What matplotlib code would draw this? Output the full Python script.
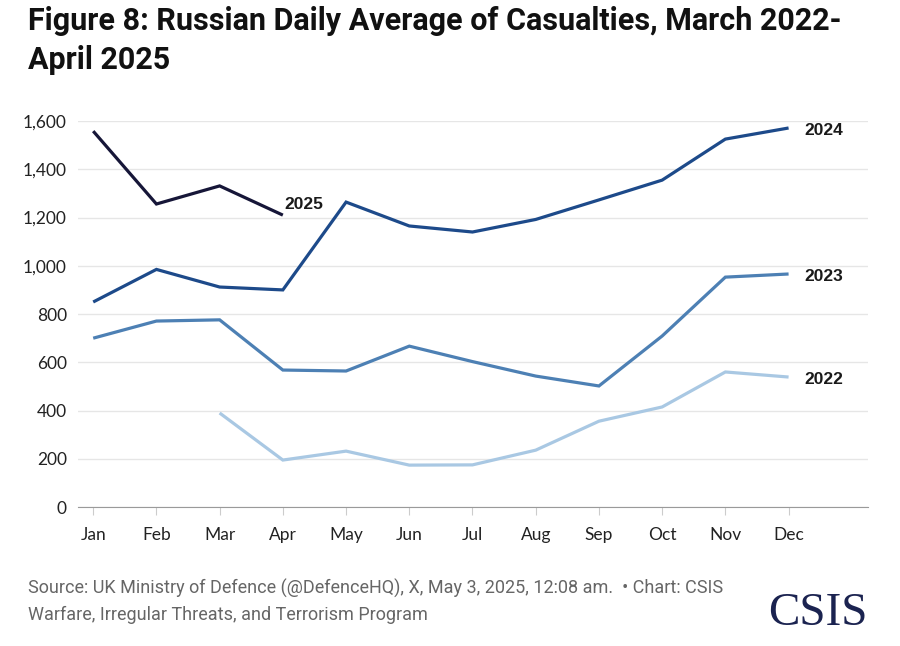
import matplotlib
matplotlib.use("Agg")
import matplotlib.pyplot as plt

# month labels and yearly daily-average casualties
months = ["Jan", "Feb", "Mar", "Apr", "May", "Jun", "Jul", "Aug", "Sep", "Oct", "Nov", "Dec"]
y2022 = [None, None, 390, 195, 232, 174, 175, 236, 356, 415, 560, 539]
y2023 = [700, 771, 776, 568, 564, 667, 603, 543, 502, 709, 953, 966]
y2024 = [850, 985, 912, 900, 1264, 1165, 1140, 1192, 1273, 1355, 1525, 1571]
y2025 = [1558, 1256, 1331, 1210]

series = [
    ("2022", y2022, "#a9c8e3"),
    ("2023", y2023, "#4d80b4"),
    ("2024", y2024, "#1d4a8a"),
    ("2025", y2025, "#161638"),
]

fig = plt.figure(figsize=(9, 6.46), dpi=100)
ax = fig.add_axes([0.0867, 0.215, 0.8773, 0.5977])

for name, vals, col in series:
    xs = [i for i, v in enumerate(vals) if v is not None]
    ys = [v for v in vals if v is not None]
    ax.plot(xs, ys, color=col, lw=2.3, solid_capstyle="butt", solid_joinstyle="miter", clip_on=False)
    if name == "2025":
        # this label sits just right of and above the last point
        ax.text(xs[-1] + 0.03, ys[-1] + 45, name, fontsize=12.5, fontweight="bold",
                family="Liberation Sans", color="#1a1a1a", va="center", ha="left")
    else:
        ax.text(xs[-1] + 0.25, ys[-1] - 12, name, fontsize=12.5, fontweight="bold",
                family="Liberation Sans", color="#1a1a1a", va="center", ha="left")

ax.set_xlim(-0.24, 12.25)
ax.set_ylim(0, 1600)
ax.set_xticks(range(12))
ax.set_xticklabels(months)
ax.set_yticks(range(0, 1601, 200))
ax.set_yticklabels([f"{v:,}" for v in range(0, 1601, 200)])
ax.grid(axis="y", color="#e6e6e6", lw=1)
ax.set_axisbelow(True)
for s in ["top", "right", "left"]:
    ax.spines[s].set_visible(False)
ax.spines["bottom"].set_color("#9a9a9a")
ax.tick_params(axis="x", length=6, color="#cccccc", pad=8, labelsize=12.5, labelcolor="#222222")
ax.tick_params(axis="y", length=0, pad=8, labelsize=12.5, labelcolor="#222222")
for lab in ax.get_xticklabels() + ax.get_yticklabels():
    lab.set_family("Lato")

fig.text(0.031, 0.99, "Figure 8: Russian Daily Average of Casualties, March 2022-\nApril 2025",
         fontsize=22, fontweight="bold", family="Roboto", color="#111111",
         va="top", ha="left", linespacing=1.35)

fig.text(0.031, 0.069,
         "Source: UK Ministry of Defence (@DefenceHQ), X, May 3, 2025, 12:08 am.  \u2022 Chart: CSIS\n"
         "Warfare, Irregular Threats, and Terrorism Program",
         fontsize=13, family="Roboto", color="#666666", va="center", ha="left",
         linespacing=1.5)
fig.text(0.964, 0.033, "CSIS", fontsize=34, family="Liberation Serif", color="#1b2350",
         ha="right", va="baseline")

fig.savefig("out.png", dpi=100, facecolor="white")
